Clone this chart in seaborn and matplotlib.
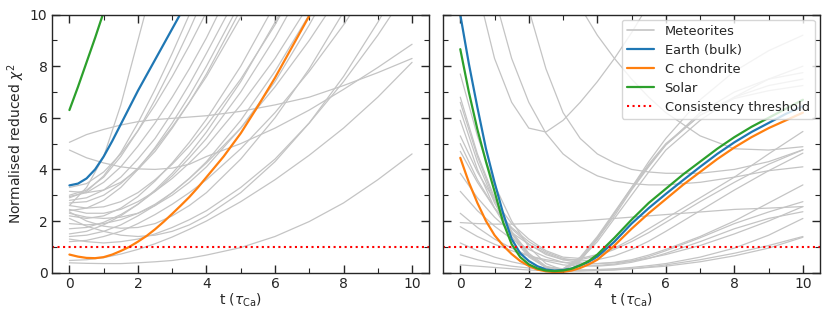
import numpy as np
import pandas as pd
import matplotlib
matplotlib.use("Agg")
import matplotlib.pyplot as plt
from matplotlib.lines import Line2D
from matplotlib.ticker import MultipleLocator
import seaborn as sns

t_left = [0, 0.5, 1, 1.5, 2, 2.5, 3, 3.5, 4, 5, 6, 7, 8, 9, 10]
t_right = [0, 0.5, 1, 1.5, 2, 2.5, 3, 3.5, 4, 4.5, 5, 5.5, 6, 7, 8, 9, 10]
t_fine = [0, 0.25, 0.5, 0.75, 1, 1.25, 1.5, 1.75, 2, 2.25, 2.5, 2.75, 3, 3.25, 3.5, 3.75, 4,
          4.5, 5, 5.5, 6, 6.5, 7, 7.5, 8, 8.5, 9, 9.5, 10]

# ---- left panel ----
left_meteorites = [
    [5.05, 5.35, 5.55, 5.72, 5.85, 5.93, 5.98, 6.03, 6.08, 6.25, 6.5, 6.8, 7.25, 7.75, 8.3],
    [4.75, 4.45, 4.25, 4.1, 4.02, 4.0, 4.05, 4.2, 4.5, 5.0, 5.6, 6.3, 7.1, 7.95, 8.85],
    [2.6, 3.3, 4.5, 6.5, 9.0, 11.5],
    [3.3, 3.45, 3.9, 4.6, 5.5, 6.5, 7.6, 8.8, 10.1, 13.0],
    [3.15, 3.1, 3.2, 3.5, 4.0, 4.7, 5.6, 6.6, 7.7, 10.2],
    [2.95, 3.1, 3.5, 4.1, 4.9, 5.8, 6.8, 7.9, 9.1, 11.8],
    [2.8, 2.9, 3.2, 3.7, 4.4, 5.2, 6.2, 7.3, 8.5, 11.0],
    [2.7, 2.75, 3.0, 3.45, 4.05, 4.8, 5.65, 6.6, 7.6, 9.9, 12.4],
    [2.6, 2.5, 2.55, 2.75, 3.1, 3.6, 4.2, 4.9, 5.7, 7.5, 9.6, 12.0],
    [2.45, 2.3, 2.3, 2.45, 2.75, 3.15, 3.65, 4.25, 4.9, 6.5, 8.3, 10.4],
    [2.35, 2.0, 1.8, 1.72, 1.75, 1.9, 2.2, 2.6, 3.1, 4.4, 6.0, 7.9, 10.1],
    [2.3, 2.15, 2.1, 2.15, 2.3, 2.6, 3.0, 3.5, 4.1, 5.6, 7.4, 9.6, 12.0],
    [2.1, 1.8, 1.6, 1.45, 1.4, 1.45, 1.6, 1.85, 2.2, 3.1, 4.3, 5.8, 7.6, 9.7, 12.0],
    [1.9, 1.85, 1.9, 2.05, 2.3, 2.65, 3.1, 3.65, 4.3, 5.9, 7.8, 10.0, 12.3],
    [1.7, 1.75, 1.95, 2.25, 2.65, 3.15, 3.75, 4.45, 5.2, 7.0, 9.1, 11.5],
    [1.5, 1.6, 1.85, 2.2, 2.65, 3.2, 3.85, 4.6, 5.45, 7.4, 9.7, 12.0],
    [1.4, 1.45, 1.6, 1.85, 2.2, 2.6, 3.1, 3.65, 4.25, 5.6, 7.2, 9.0, 11.0],
    [1.2, 1.25, 1.4, 1.6, 1.9, 2.25, 2.65, 3.1, 3.6, 4.8, 6.2, 7.8, 9.6, 11.6],
    [1.3, 1.2, 1.15, 1.2, 1.3, 1.5, 1.75, 2.05, 2.4, 3.3, 4.4, 5.8, 7.4, 9.2, 11.2],
    [0.47, 0.5, 0.58, 0.72, 0.9, 1.12, 1.38, 1.68, 2.0, 2.75, 3.6, 4.55, 5.6, 6.8, 8.15],
    [0.38, 0.36, 0.35, 0.35, 0.38, 0.42, 0.47, 0.56, 0.68, 0.97, 1.4, 1.98, 2.7, 3.6, 4.6],
    [3.0, 3.2, 3.7, 4.5, 5.5, 6.7, 8.0, 9.4, 10.9],
    [2.9, 3.15, 3.75, 4.65, 5.8, 7.1, 8.5, 10.0, 11.6],
    [2.4, 2.5, 2.8, 3.3, 4.0, 4.85, 5.8, 6.85, 8.0, 10.5],
    [2.2, 2.1, 2.2, 2.5, 2.95, 3.55, 4.25, 5.05, 5.95, 8.0, 10.4],
]
left_earth = [3.38, 3.45, 3.65, 4.0, 4.5, 5.1, 5.75, 6.4, 7.05, 7.65, 8.25, 8.85, 9.45, 10.05]
left_chondrite = [0.7, 0.62, 0.57, 0.56, 0.6, 0.7, 0.84, 1.0, 1.2, 1.42, 1.68, 1.97, 2.28,
                  2.6, 2.93, 3.3, 3.7, 4.5, 5.4, 6.45, 7.55, 8.75, 9.95, 11.2]
left_solar = [6.3, 7.2, 8.15, 9.1, 10.1]

# ---- right panel ----
right_meteorites = [
    [7.7, 5.3, 3.4, 2.0, 1.0, 0.35, 0.1, 0.45, 1.3, 2.3, 3.3, 4.3, 5.2, 6.7, 7.8, 8.6, 9.2],
    [6.8, 4.6, 2.9, 1.6, 0.75, 0.25, 0.1, 0.5, 1.3, 2.2, 3.2, 4.1, 4.95, 6.2, 7.0, 7.5, 7.75],
    [6.6, 4.5, 2.8, 1.55, 0.7, 0.2, 0.12, 0.55, 1.35, 2.3, 3.25, 4.15, 4.95, 6.1, 6.8, 7.25, 7.5],
    [6.3, 4.3, 2.7, 1.5, 0.65, 0.2, 0.15, 0.6, 1.4, 2.35, 3.3, 4.2, 5.0, 6.1, 6.75, 7.05, 7.25],
    [5.9, 4.0, 2.5, 1.4, 0.6, 0.2, 0.15, 0.5, 1.2, 2.1, 3.0, 3.9, 4.75, 5.9, 6.8, 7.5, 8.0],
    [15.0, 11.0, 8.3, 6.6, 5.6, 5.45, 5.9, 6.6, 7.4, 8.3, 9.3, 10.4, 11.6, 14.0, 16.0, 18.0, 20.0],
    [17.0, 13.5, 10.7, 8.3, 6.6, 5.4, 4.6, 4.1, 3.75, 3.55, 3.45, 3.4, 3.4, 3.5, 3.7, 3.95, 4.1],
    [26.0, 21.0, 17.0, 13.3, 10.2, 7.9, 6.2, 5.2, 4.6, 4.25, 4.0, 3.9, 3.85, 3.85, 4.0, 4.3, 4.76],
    [18.0, 17.0, 16.0, 15.0, 13.8, 12.5, 11.3, 10.3, 9.2, 8.3, 7.5, 6.8, 6.2, 5.3, 4.8, 4.75, 4.88],
    [5.3, 3.9, 2.8, 1.9, 1.3, 0.85, 0.6, 0.55, 0.7, 0.95, 1.3, 1.7, 2.1, 2.9, 3.7, 4.6, 5.47],
    [5.0, 3.6, 2.5, 1.7, 1.1, 0.7, 0.5, 0.5, 0.65, 0.9, 1.2, 1.55, 1.95, 2.75, 3.5, 4.2, 4.76],
    [4.7, 3.5, 2.5, 1.75, 1.2, 0.8, 0.55, 0.45, 0.5, 0.65, 0.9, 1.22, 1.6, 2.4, 3.2, 3.95, 4.63],
    [3.85, 2.9, 2.15, 1.55, 1.1, 0.75, 0.5, 0.38, 0.35, 0.4, 0.5, 0.68, 0.9, 1.4, 2.0, 2.7, 3.4],
    [3.15, 2.4, 1.8, 1.3, 0.9, 0.6, 0.4, 0.3, 0.28, 0.33, 0.45, 0.62, 0.85, 1.35, 1.9, 2.35, 2.75],
    [2.3, 1.75, 1.3, 0.95, 0.65, 0.45, 0.3, 0.25, 0.25, 0.3, 0.4, 0.55, 0.75, 1.2, 1.7, 2.1, 2.36],
    [1.94, 1.9, 1.88, 1.88, 1.9, 1.93, 1.97, 2.0, 2.05, 2.1, 2.15, 2.2, 2.25, 2.35, 2.45, 2.5, 2.56],
    [1.78, 1.4, 1.1, 0.85, 0.65, 0.5, 0.4, 0.35, 0.35, 0.38, 0.45, 0.56, 0.7, 1.05, 1.5, 2.0, 2.56],
    [1.15, 0.85, 0.6, 0.42, 0.28, 0.18, 0.12, 0.1, 0.1, 0.12, 0.15, 0.2, 0.25, 0.42, 0.65, 0.95, 1.37],
    [0.69, 0.5, 0.35, 0.25, 0.18, 0.12, 0.1, 0.1, 0.12, 0.15, 0.2, 0.27, 0.35, 0.6, 0.95, 1.45, 2.1],
    [0.3, 0.25, 0.2, 0.15, 0.1, 0.08, 0.06, 0.06, 0.08, 0.1, 0.15, 0.22, 0.3, 0.5, 0.75, 1.05, 1.4],
]
right_earth = [10.0, 8.1, 6.4, 4.8, 3.5, 2.3, 1.3, 0.75, 0.45, 0.25, 0.12, 0.08, 0.1, 0.16, 0.28,
               0.42, 0.62, 1.2, 1.9, 2.5, 3.05, 3.58, 4.1, 4.6, 5.05, 5.45, 5.8, 6.15, 6.45]
right_chondrite = [4.45, 3.5, 2.7, 2.0, 1.45, 1.05, 0.72, 0.45, 0.26, 0.12, 0.05, 0.02, 0.03, 0.08,
                   0.18, 0.32, 0.5, 1.05, 1.7, 2.3, 2.85, 3.4, 3.9, 4.4, 4.85, 5.25, 5.6, 5.9, 6.2]
right_solar = [8.66, 7.0, 5.55, 4.3, 3.15, 1.95, 1.1, 0.6, 0.32, 0.16, 0.08, 0.06, 0.08, 0.15,
               0.28, 0.45, 0.7, 1.35, 2.05, 2.7, 3.25, 3.8, 4.3, 4.8, 5.25, 5.65, 6.0, 6.35, 6.7]

threshold = 1.0

grey = "#c4c4c4"
c_earth = "#1f77b4"
c_chond = "#ff7f0e"
c_solar = "#2ca02c"


def long_frame(curves, grid):
    rows = []
    for i, ys in enumerate(curves):
        for t, y in zip(grid, ys):
            rows.append((i, t, y))
    return pd.DataFrame(rows, columns=["curve", "t", "chi2"])


def one_curve(ys):
    return pd.DataFrame({"t": t_fine[:len(ys)], "chi2": ys})


sns.set_style("ticks")
plt.rcParams["font.family"] = ["DejaVu Sans"]

fig, axs = plt.subplots(1, 2, figsize=(8.3, 3.17), dpi=100, sharey=True)
fig.subplots_adjust(left=0.063, right=0.988, top=0.954, bottom=0.14, wspace=0.037)

panels = [
    (left_meteorites, t_left, left_earth, left_chondrite, left_solar),
    (right_meteorites, t_right, right_earth, right_chondrite, right_solar),
]

for ax, (met, grid, earth, chond, solar) in zip(axs, panels):
    sns.lineplot(data=long_frame(met, grid), x="t", y="chi2", units="curve",
                 estimator=None, color=grey, lw=0.9, ax=ax)
    sns.lineplot(data=one_curve(earth), x="t", y="chi2", color=c_earth, lw=1.6, ax=ax)
    sns.lineplot(data=one_curve(chond), x="t", y="chi2", color=c_chond, lw=1.6, ax=ax)
    sns.lineplot(data=one_curve(solar), x="t", y="chi2", color=c_solar, lw=1.6, ax=ax)
    ax.axhline(threshold, color="red", ls=":", lw=1.5)

    ax.set_xlim(-0.5, 10.5)
    ax.set_ylim(0, 10)
    ax.xaxis.set_major_locator(MultipleLocator(2))
    ax.xaxis.set_minor_locator(MultipleLocator(1))
    ax.yaxis.set_major_locator(MultipleLocator(2))
    ax.yaxis.set_minor_locator(MultipleLocator(1))
    ax.tick_params(which="both", direction="in", top=True, right=True, labelsize=10)
    ax.tick_params(which="major", length=6, width=1)
    ax.tick_params(which="minor", length=3.5, width=0.8)
    ax.set_xlabel(r"t ($\tau_{\rm Ca}$)", fontsize=10, labelpad=0)
    ax.set_ylabel("")
    for s in ax.spines.values():
        s.set_linewidth(1.0)

axs[0].set_ylabel(r"Normalised reduced $\chi^2$", fontsize=10, labelpad=2)
axs[1].tick_params(labelleft=False)

handles = [
    Line2D([], [], color=grey, lw=1.2),
    Line2D([], [], color=c_earth, lw=1.6),
    Line2D([], [], color=c_chond, lw=1.6),
    Line2D([], [], color=c_solar, lw=1.6),
    Line2D([], [], color="red", ls=":", lw=1.5),
]
labels = ["Meteorites", "Earth (bulk)", "C chondrite", "Solar", "Consistency threshold"]
axs[1].legend(handles, labels, loc="upper right", fontsize=9.4, framealpha=0.8,
              handlelength=2.1, borderaxespad=0.4, labelspacing=0.45)

fig.savefig("out.png", dpi=100)
